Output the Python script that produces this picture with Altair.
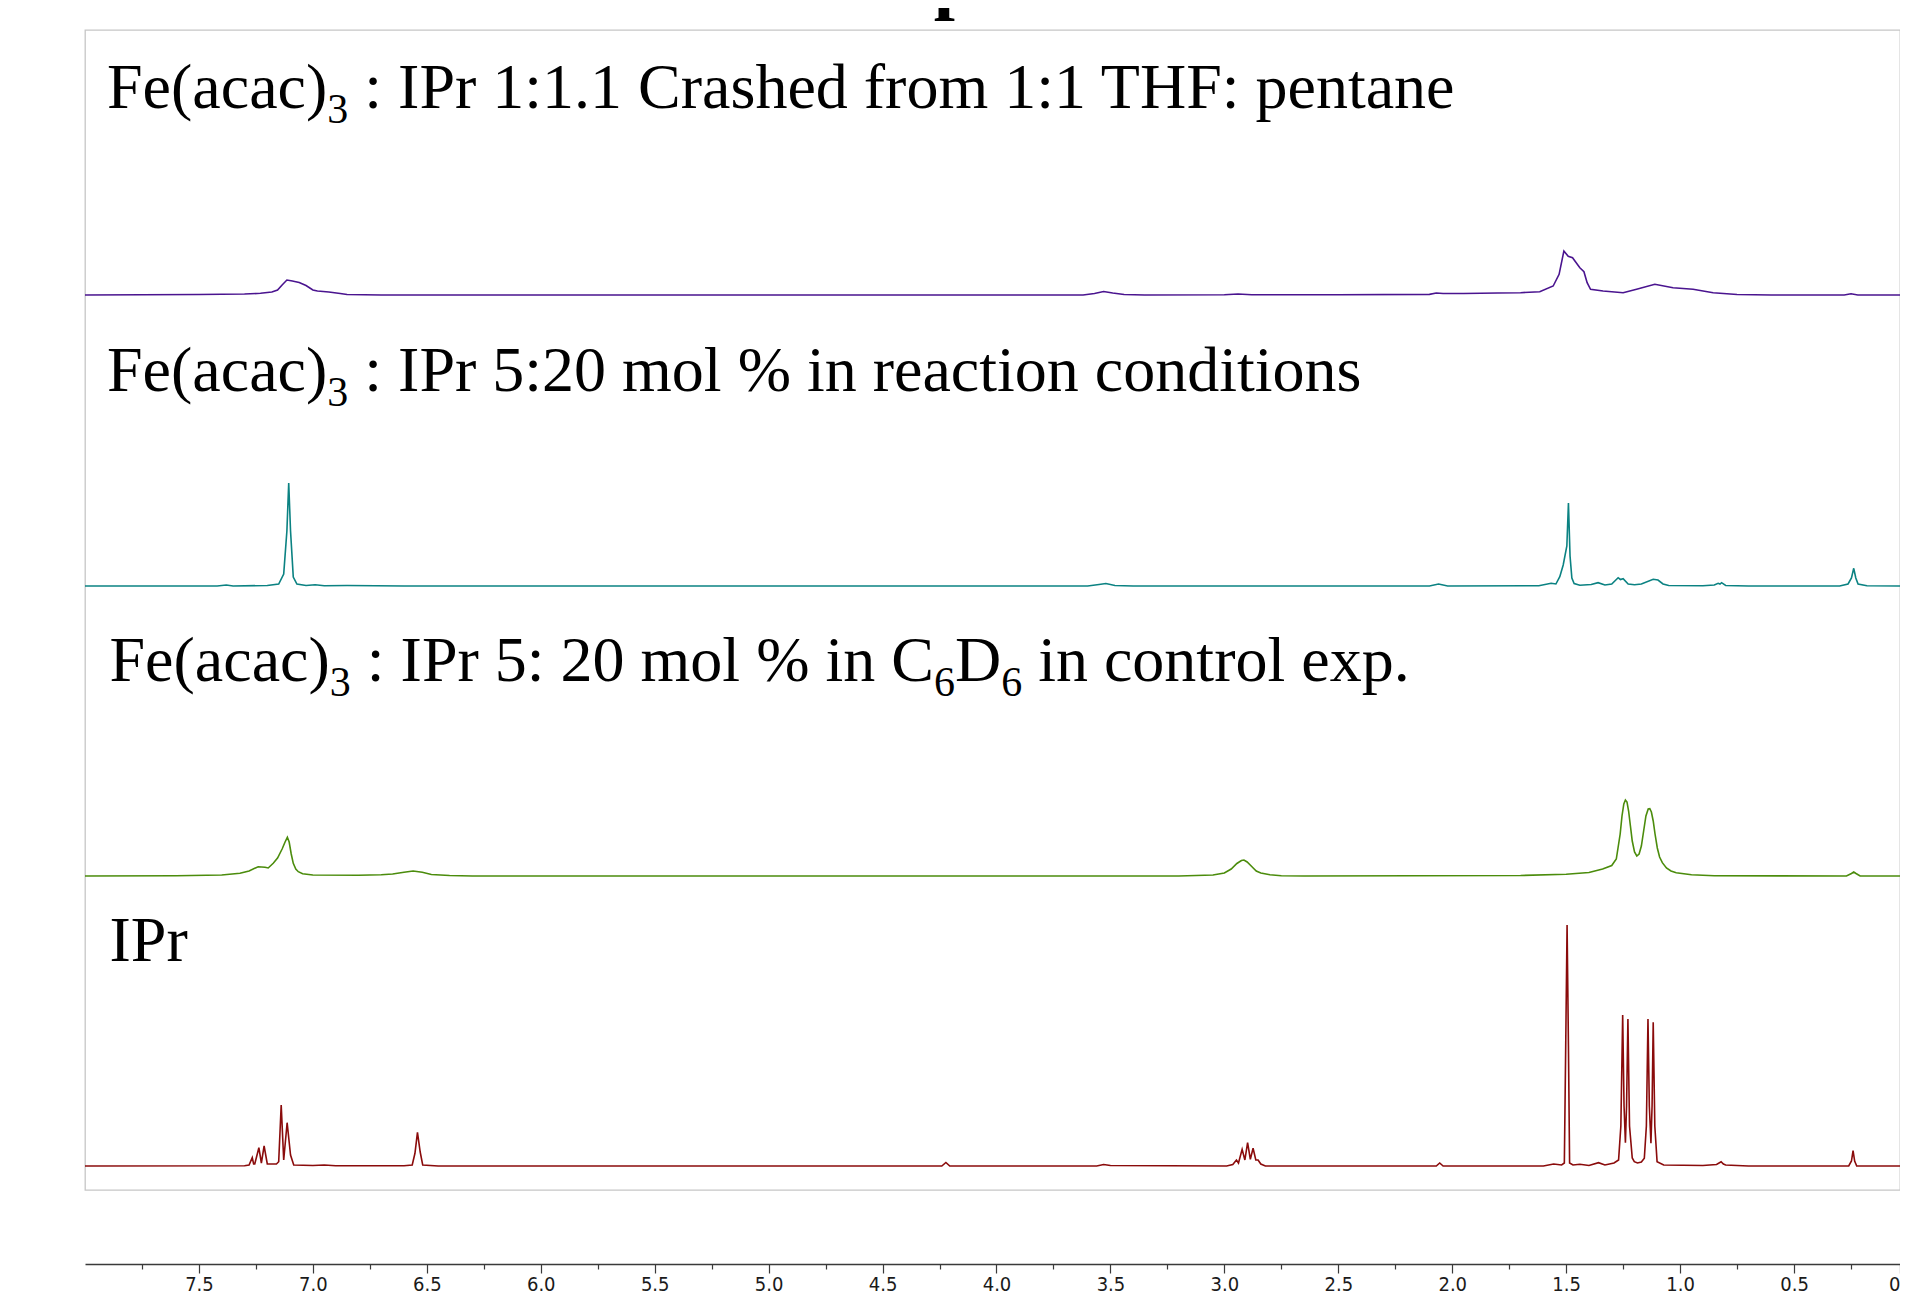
import altair as alt
import pandas as pd

# ---------------- data ----------------
major_ticks = [7.5, 7.0, 6.5, 6.0, 5.5, 5.0, 4.5, 4.0, 3.5, 3.0, 2.5, 2.0, 1.5, 1.0, 0.5]
minor_ticks = [7.75, 7.25, 6.75, 6.25, 5.75, 5.25, 4.75, 4.25, 3.75, 3.25, 2.75, 2.25, 1.75, 1.25, 0.75, 0.25]
ppm_max = 8.0
ppm_min = 0.035          # right edge of the visible window (the 0 tick sits at the edge)

trace_names = ["crashed", "reaction", "control", "ipr"]
trace_colors = ["#4a148f", "#0b8282", "#4b8c0c", "#8a0b0b"]

# trace 1: Fe(acac)3 : IPr 1:1.1 crashed from THF/pentane
t1_ppm = [8.00, 7.50, 7.30, 7.23, 7.18, 7.155, 7.135, 7.114, 7.09, 7.06, 7.03, 7.00, 6.98, 6.93, 6.88, 6.85, 6.70,
          3.62, 3.57, 3.53, 3.49, 3.44, 3.35, 3.00, 2.94, 2.88, 2.50, 2.10, 2.07, 2.04, 1.95, 1.80, 1.70, 1.616,
          1.557, 1.531, 1.510, 1.491, 1.472, 1.440, 1.422, 1.408, 1.393, 1.338, 1.25, 1.191, 1.111, 1.031, 0.943,
          0.855, 0.75, 0.60, 0.28, 0.25, 0.22, 0.00]
t1_int = [0.0, 0.5, 1.0, 1.7, 3.0, 5.0, 10.0, 15.0, 14.0, 12.5, 9.5, 5.0, 4.0, 3.0, 1.5, 0.5, 0.0,
          0.0, 1.5, 3.5, 2.0, 0.5, 0.0, 0.2, 1.0, 0.3, 0.3, 0.6, 2.0, 1.5, 1.5, 2.0, 2.3, 3.3,
          9.0, 20.7, 44.0, 38.7, 37.3, 27.3, 23.3, 12.3, 5.7, 4.0, 2.3, 5.7, 10.7, 7.3, 5.7,
          2.3, 0.5, 0.0, 0.0, 1.2, 0.0, 0.0]

# trace 2: Fe(acac)3 : IPr 5:20 mol % in reaction conditions
t2_ppm = [8.00, 7.42, 7.38, 7.35, 7.20, 7.15, 7.128, 7.114, 7.106, 7.098, 7.086, 7.07, 7.03, 6.99, 6.95, 6.85, 6.60,
          3.60, 3.55, 3.52, 3.48, 3.40, 2.10, 2.06, 2.02, 1.62, 1.566, 1.545, 1.528, 1.513, 1.497, 1.490, 1.483,
          1.475, 1.465, 1.44, 1.39, 1.36, 1.33, 1.30, 1.272, 1.262, 1.250, 1.228, 1.20, 1.17, 1.118, 1.097, 1.075,
          1.05, 0.90, 0.85, 0.833, 0.825, 0.818, 0.80, 0.70, 0.30, 0.263, 0.248, 0.238, 0.229, 0.219, 0.18, 0.00]
t2_int = [0.0, 0.0, 1.0, 0.0, 0.5, 2.0, 12.0, 55.0, 103.0, 55.0, 9.0, 2.0, 0.5, 1.2, 0.3, 0.5, 0.0,
          0.0, 1.5, 2.5, 0.5, 0.0, 0.0, 2.0, 0.0, 0.3, 2.7, 2.0, 9.3, 21.0, 40.0, 83.0, 30.0,
          8.0, 2.5, 0.7, 1.5, 3.3, 1.0, 2.0, 8.3, 6.5, 7.3, 2.0, 1.2, 2.0, 6.7, 6.0, 2.0,
          0.5, 0.3, 1.0, 2.7, 2.0, 3.3, 0.5, 0.0, 0.0, 2.0, 8.0, 17.7, 8.0, 2.0, 0.3, 0.0]

# trace 3: Fe(acac)3 : IPr 5: 20 mol % in C6D6 (control)
t3_ppm = [8.00, 7.60, 7.40, 7.32, 7.28, 7.24, 7.21, 7.196, 7.174, 7.155, 7.135, 7.122, 7.112, 7.104, 7.095,
          7.086, 7.075, 7.064, 7.045, 7.00, 6.80, 6.70, 6.65, 6.60, 6.56, 6.52, 6.48, 6.40, 6.30,
          3.20, 3.05, 3.00, 2.97, 2.945, 2.925, 2.914, 2.90, 2.88, 2.86, 2.84, 2.80, 2.75, 2.65,
          1.70, 1.50, 1.40, 1.34, 1.30, 1.28, 1.263, 1.255, 1.247, 1.240, 1.233, 1.226, 1.218, 1.210, 1.200,
          1.190, 1.180, 1.170, 1.160, 1.150, 1.140, 1.133, 1.126, 1.118, 1.110, 1.100, 1.090, 1.078, 1.060,
          1.040, 1.017, 0.95, 0.85, 0.27, 0.248, 0.238, 0.228, 0.21, 0.00]
t3_int = [0.0, 0.2, 1.0, 2.7, 5.0, 9.3, 8.7, 8.0, 12.7, 18.0, 27.0, 34.0, 38.7, 34.0, 22.0,
          12.7, 7.0, 4.3, 2.3, 1.0, 0.7, 1.2, 2.0, 3.8, 5.0, 3.8, 1.5, 0.5, 0.0,
          0.0, 1.0, 3.0, 7.0, 12.5, 15.5, 16.0, 14.0, 9.5, 5.0, 3.0, 1.2, 0.3, 0.0,
          0.5, 1.7, 3.5, 7.0, 10.5, 17.0, 42.0, 60.0, 72.0, 76.0, 74.0, 65.0, 50.0, 35.0, 24.0,
          20.0, 22.0, 30.0, 45.0, 60.0, 67.0, 67.3, 64.0, 55.0, 42.0, 28.0, 19.0, 13.3, 8.0,
          5.0, 3.3, 1.2, 0.3, 0.0, 2.5, 4.0, 2.5, 0.0, 0.0]

# trace 4: IPr
t4_ppm = [8.00, 7.30, 7.28, 7.266, 7.26, 7.255, 7.237, 7.226, 7.214, 7.20, 7.16, 7.150, 7.139, 7.128, 7.113,
          7.098, 7.084, 7.00, 6.95, 6.90, 6.60, 6.564, 6.552, 6.541, 6.529, 6.518, 6.45, 4.24, 4.222, 4.205,
          3.56, 3.53, 3.50, 2.99, 2.963, 2.947, 2.938, 2.922, 2.910, 2.898, 2.886, 2.874, 2.862, 2.852, 2.840,
          2.82, 2.07, 2.055, 2.04, 1.60, 1.555, 1.520, 1.508, 1.502, 1.496, 1.490, 1.485, 1.47, 1.44, 1.40,
          1.358, 1.33, 1.29, 1.270, 1.260, 1.252, 1.246, 1.240, 1.235, 1.229, 1.222, 1.210, 1.201, 1.187,
          1.170, 1.157, 1.148, 1.141, 1.135, 1.128, 1.123, 1.118, 1.111, 1.101, 1.072, 0.90, 0.84, 0.820,
          0.810, 0.800, 0.70, 0.26, 0.248, 0.241, 0.234, 0.225, 0.00]
t4_int = [0.0, 0.3, 1.0, 8.3, 2.0, 2.0, 18.3, 3.0, 20.0, 2.0, 2.0, 4.3, 61.0, 6.0, 43.3,
          11.0, 1.0, 0.5, 1.0, 0.3, 0.3, 1.0, 12.7, 33.7, 14.0, 1.0, 0.0, 0.0, 3.5, 0.0,
          0.0, 1.5, 0.5, 0.0, 1.5, 6.0, 3.0, 16.7, 6.0, 23.3, 6.7, 17.7, 6.0, 6.0, 2.0,
          0.0, 0.0, 3.0, 0.0, 0.0, 2.0, 1.0, 3.0, 120.0, 241.0, 120.0, 3.0, 1.0, 1.7, 0.5,
          3.3, 1.0, 3.0, 6.0, 40.0, 151.0, 60.0, 23.3, 60.0, 147.0, 40.0, 8.0, 4.3, 3.0,
          4.0, 7.7, 40.0, 147.0, 60.0, 22.7, 60.0, 143.7, 40.0, 4.3, 1.0, 0.5, 1.5, 4.3,
          2.0, 1.0, 0.0, 0.0, 5.0, 15.3, 5.0, 0.0, 0.0]

label1 = [("Fe(acac)", "m"), ("3", "s"), (" : IPr 1:1.1 Crashed from 1:1 THF: pentane", "m")]
label2 = [("Fe(acac)", "m"), ("3", "s"), (" : IPr 5:20 mol % in reaction conditions", "m")]
label3 = [("Fe(acac)", "m"), ("3", "s"), (" : IPr 5: 20 mol % in C", "m"), ("6", "s"), ("D", "m"),
          ("6", "s"), (" in control exp.", "m")]
label4 = [("IPr", "m")]
title_text = "Spectra"

# ---------------- layout ----------------
W, H = 1815, 1160
baselines = [895, 604, 314, 24]          # trace baselines, px above plot bottom
SERIF = "Liberation Serif, Times New Roman, serif"
MAIN, SUB, SUBDY = 64, 42, 15

series = [(t1_ppm, t1_int), (t2_ppm, t2_int), (t3_ppm, t3_int), (t4_ppm, t4_int)]
rows = []
for name, base, (pp, ii) in zip(trace_names, baselines, series):
    for p, v in zip(pp, ii):
        rows.append({"ppm": p, "v": v + base, "trace": name})
df = pd.DataFrame(rows)

xscale = alt.Scale(domain=[ppm_min, ppm_max], reverse=True, nice=False, zero=False, clamp=True)
yscale = alt.Scale(domain=[0, H], nice=False, zero=False)

lines = alt.Chart(df).mark_line(strokeWidth=1.6, interpolate="linear").encode(
    x=alt.X("ppm:Q", scale=xscale, title=None,
            axis=alt.Axis(values=major_ticks + [ppm_min], orient="bottom", offset=74, grid=False,
                          domainColor="#3a3a3a", domainWidth=1.5, tickColor="#3a3a3a",
                          tickWidth=1.2, tickSize=9, labelPadding=1, labelFlush=True,
                          labelOverlap=False,
                          labelFont="Liberation Sans Narrow, Arial Narrow, DejaVu Sans Condensed, sans-serif",
                          labelFontSize=20, labelColor="#1a1a1a",
                          labelExpr="datum.value < 0.1 ? '0' : format(datum.value, '.1f')")),
    y=alt.Y("v:Q", scale=yscale, axis=None),
    color=alt.Color("trace:N", scale=alt.Scale(domain=trace_names, range=trace_colors), legend=None),
    detail="trace:N",
)

minor = alt.Chart(pd.DataFrame({"ppm": minor_ticks})).mark_point(opacity=0).encode(
    x=alt.X("ppm:Q", scale=xscale, title=None,
            axis=alt.Axis(values=minor_ticks, orient="bottom", offset=74, grid=False, domain=False,
                          labels=False, tickColor="#3a3a3a", tickWidth=1.2, tickSize=5)),
    y=alt.value(0),
)

# character advance widths (Times metrics, per 1000 em)
CW = {"F": 556, "e": 444, "(": 333, "a": 444, "c": 444, ")": 333, " ": 250, ":": 278, "I": 333,
      "P": 556, "r": 333, "5": 500, "2": 500, "0": 500, "1": 500, "3": 500, "6": 500, "m": 778,
      "o": 500, "l": 278, "%": 833, "i": 278, "n": 500, "C": 667, "D": 722, ".": 250}


def adv(s, size):
    return sum(CW.get(ch, 500) for ch in s) * size / 1000.0


def text_layer(s, x, y, size, weight="normal", align="left"):
    return alt.Chart(alt.Data(values=[{}])).mark_text(
        text=s, font=SERIF, fontSize=size, fontWeight=weight, align=align,
        baseline="alphabetic", color="#000000").encode(x=alt.value(x), y=alt.value(y))


texts = []
for segs, x0, yb in [(label1, 22, 78), (label2, 22, 361), (label3, 24.5, 651), (label4, 24.5, 931)]:
    x = x0
    for s, kind in segs:
        size = MAIN if kind == "m" else SUB
        dy = 0 if kind == "m" else SUBDY
        if s.startswith(" "):
            x += adv(" ", size)
            s = s.lstrip(" ")
        texts.append(text_layer(s, x, yb + dy, size))
        x += adv(s, size)

texts.append(text_layer(title_text, 931, -25, 76, weight="bold", align="center"))

chart = alt.layer(lines, minor, *texts).resolve_axis(x="independent").properties(
    width=W, height=H,
    autosize=alt.AutoSizeParams(type="none"),
    padding={"left": 77, "top": 22, "right": 0, "bottom": 104},
    background="#ffffff",
).configure_view(stroke="#c6c6c6", strokeWidth=1.3)

chart.save("out.html", embed_options={"renderer": "svg", "actions": False})
